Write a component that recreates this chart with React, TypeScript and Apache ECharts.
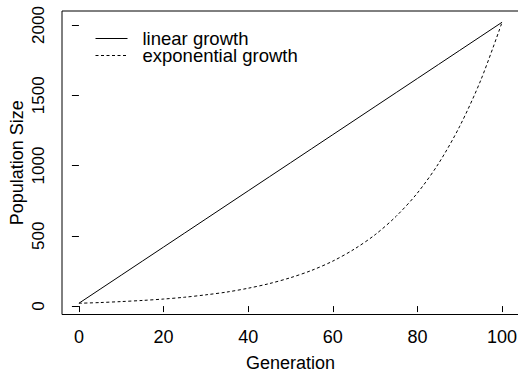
import React, { useEffect, useRef } from "react";
import * as echarts from "echarts";

const generations = [0, 5, 10, 15, 20, 25, 30, 35, 40, 45, 50, 55, 60, 65, 70, 75, 80, 85, 90, 95, 100];
const linearGrowth = [20, 120, 220, 320, 420, 520, 620, 720, 820, 920, 1020, 1120, 1220, 1320, 1420, 1520, 1620, 1720, 1820, 1920, 2020];
const exponentialGrowth = [20, 25, 32, 40, 50, 63, 80, 100, 127, 160, 202, 254, 320, 404, 508, 640, 805, 1015, 1280, 1610, 2020];
const xTicks = [0, 20, 40, 60, 80, 100];
const yTicks = [0, 500, 1000, 1500, 2000];

const FONT = "Liberation Sans, Arial, Helvetica, sans-serif";

export default function App() {
  const ref = useRef<HTMLDivElement>(null);
  useEffect(() => {
    if (!ref.current) return;
    const chart = echarts.init(ref.current, null, { renderer: "svg" });
    chart.setOption({
      animation: false,
      backgroundColor: "#fff",
      textStyle: { fontFamily: FONT },
      grid: {
        left: 62,
        top: 11,
        width: 457,
        height: 303.5,
        show: true,
        borderColor: "#000",
        borderWidth: 1,
        backgroundColor: "transparent",
        containLabel: false,
        outerBoundsMode: "none",
      },
      legend: {
        orient: "vertical",
        left: 95,
        top: 29,
        padding: 0,
        itemWidth: 32,
        itemHeight: 14,
        itemGap: -2,
        itemStyle: { opacity: 0 },
        lineStyle: { width: 1 },
        textStyle: { fontSize: 18.5, lineHeight: 15, color: "#000", fontFamily: FONT, padding: [0, 0, 0, 10] },
        data: ["linear growth", "exponential growth"],
      },
      xAxis: {
        type: "value",
        min: -4,
        max: 104,
        name: "Generation",
        nameLocation: "middle",
        nameGap: 39,
        nameMoveOverlap: false,
        nameTextStyle: { fontSize: 18, color: "#000", fontFamily: FONT },
        axisLine: { show: false },
        splitLine: { show: false },
        axisTick: { show: true, length: 6, customValues: xTicks, lineStyle: { color: "#000" } },
        axisLabel: { customValues: xTicks, fontSize: 18, color: "#000", margin: 13, fontFamily: FONT },
      },
      yAxis: {
        type: "value",
        min: -60,
        max: 2100,
        name: "Population Size",
        nameLocation: "middle",
        nameGap: 36,
        nameMoveOverlap: false,
        nameTextStyle: { fontSize: 18, color: "#000", fontFamily: FONT },
        axisLine: { show: false },
        splitLine: { show: false },
        axisTick: { show: true, length: 7, customValues: yTicks, lineStyle: { color: "#000" } },
        axisLabel: {
          customValues: yTicks,
          fontSize: 17,
          color: "#000",
          margin: 15,
          rotate: 90,
          fontFamily: FONT,
          formatter: (v: number) => String(v),
        },
      },
      series: [
        {
          name: "linear growth",
          type: "line",
          symbol: "none",
          data: generations.map((g, i) => [g, linearGrowth[i]]),
          lineStyle: { color: "#000", width: 1 },
          itemStyle: { color: "#000" },
        },
        {
          name: "exponential growth",
          type: "line",
          symbol: "none",
          smooth: 0.3,
          data: generations.map((g, i) => [g, exponentialGrowth[i]]),
          lineStyle: { color: "#000", width: 1, type: [3, 2.5] },
          itemStyle: { color: "#000" },
        },
      ],
    });
    return () => chart.dispose();
  }, []);
  return (
    <div
      ref={ref}
      style={{ position: "fixed", left: 0, top: 0, width: 530, height: 375 }}
    />
  );
}
